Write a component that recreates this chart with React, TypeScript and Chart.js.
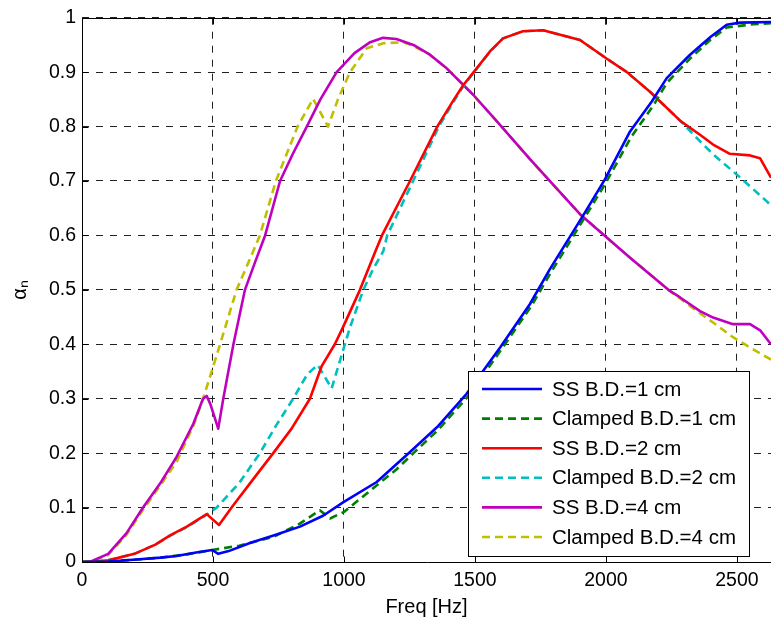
import React, { useEffect, useRef } from "react";
import { Chart, registerables } from "chart.js";

Chart.register(...registerables);

const seriesLabels = [
  "SS B.D.=1 cm",
  "Clamped B.D.=1 cm",
  "SS B.D.=2 cm",
  "Clamped B.D.=2 cm",
  "SS B.D.=4 cm",
  "Clamped B.D.=4 cm",
];
const seriesColors = ["#0000ff", "#008000", "#ff0000", "#00bfbf", "#bf00bf", "#bfbf00"];

const xTicks = [0, 500, 1000, 1500, 2000, 2500];
const yTicks = [0, 0.1, 0.2, 0.3, 0.4, 0.5, 0.6, 0.7, 0.8, 0.9, 1];

const ss1Freq = [0, 100, 195, 300, 361, 430, 497, 520, 560, 641, 740, 832, 920, 998, 1125, 1252, 1360, 1468, 1596, 1710, 1786, 1912, 1996, 2092, 2175, 2232, 2321, 2400, 2461, 2512, 2630];
const ss1Val = [0, 0.001, 0.004, 0.008, 0.011, 0.017, 0.022, 0.015, 0.02, 0.035, 0.05, 0.065, 0.085, 0.11, 0.147, 0.202, 0.25, 0.309, 0.394, 0.474, 0.538, 0.636, 0.703, 0.791, 0.846, 0.889, 0.932, 0.965, 0.987, 0.991, 0.992];

const cl1Freq = [0, 100, 200, 300, 400, 497, 600, 730, 830, 908, 947, 1000, 1087, 1200, 1265, 1360, 1475, 1600, 1715, 1790, 1915, 2000, 2095, 2180, 2232, 2321, 2400, 2461, 2562, 2630];
const cl1Val = [0, 0.001, 0.004, 0.008, 0.014, 0.022, 0.03, 0.046, 0.07, 0.095, 0.08, 0.092, 0.126, 0.17, 0.2, 0.243, 0.305, 0.39, 0.47, 0.532, 0.63, 0.697, 0.78, 0.838, 0.88, 0.925, 0.96, 0.982, 0.988, 0.99];

const ss2Freq = [0, 50, 100, 200, 280, 336, 400, 476, 523, 571, 650, 730, 800, 870, 915, 965, 996, 1061, 1120, 1145, 1252, 1356, 1420, 1455, 1495, 1557, 1607, 1683, 1760, 1901, 2002, 2080, 2168, 2285, 2359, 2409, 2473, 2550, 2588, 2630];
const ss2Val = [0, 0.001, 0.003, 0.015, 0.032, 0.049, 0.065, 0.088, 0.068, 0.1, 0.15, 0.2, 0.245, 0.3, 0.36, 0.4, 0.431, 0.5, 0.571, 0.6, 0.7, 0.8, 0.85, 0.876, 0.9, 0.938, 0.962, 0.975, 0.977, 0.959, 0.925, 0.9, 0.864, 0.81, 0.785, 0.767, 0.75, 0.747, 0.742, 0.706];

const cl2Freq = [0, 50, 100, 200, 280, 336, 400, 476, 514, 600, 679, 740, 806, 860, 900, 953, 996, 1023, 1073, 1111, 1150, 1165, 1264, 1362, 1424, 1458, 1497, 1558, 1607, 1683, 1760, 1901, 2002, 2080, 2168, 2285, 2359, 2409, 2499, 2613, 2630];
const cl2Val = [0, 0.001, 0.003, 0.015, 0.032, 0.048, 0.064, 0.087, 0.1, 0.145, 0.2, 0.25, 0.3, 0.345, 0.362, 0.319, 0.388, 0.431, 0.499, 0.538, 0.571, 0.6, 0.7, 0.8, 0.85, 0.876, 0.9, 0.938, 0.962, 0.975, 0.977, 0.959, 0.925, 0.9, 0.864, 0.81, 0.773, 0.749, 0.712, 0.663, 0.655];

const ss4Freq = [0, 30, 100, 170, 233, 298, 361, 425, 462, 476, 490, 520, 540, 578, 622, 660, 699, 756, 805, 858, 910, 972, 1040, 1100, 1149, 1200, 1265, 1328, 1392, 1494, 1583, 1710, 1774, 1901, 2003, 2092, 2244, 2283, 2359, 2409, 2485, 2550, 2590, 2630];
const ss4Val = [0, 0, 0.015, 0.053, 0.1, 0.144, 0.193, 0.254, 0.3, 0.305, 0.29, 0.245, 0.302, 0.4, 0.5, 0.55, 0.6, 0.7, 0.75, 0.8, 0.85, 0.9, 0.935, 0.955, 0.963, 0.961, 0.95, 0.932, 0.907, 0.858, 0.81, 0.74, 0.706, 0.639, 0.596, 0.559, 0.498, 0.486, 0.461, 0.449, 0.437, 0.437, 0.425, 0.4];

const cl4Freq = [0, 30, 100, 170, 233, 298, 361, 425, 462, 495, 527, 590, 635, 679, 740, 823, 882, 939, 977, 1023, 1087, 1150, 1227, 1265, 1328, 1392, 1494, 1583, 1710, 1774, 1901, 2003, 2092, 2244, 2283, 2359, 2409, 2485, 2540, 2630];
const cl4Val = [0, 0, 0.013, 0.05, 0.096, 0.14, 0.184, 0.25, 0.3, 0.35, 0.4, 0.5, 0.55, 0.6, 0.7, 0.8, 0.851, 0.8, 0.85, 0.9, 0.944, 0.953, 0.955, 0.948, 0.932, 0.907, 0.858, 0.81, 0.74, 0.706, 0.639, 0.596, 0.559, 0.498, 0.484, 0.457, 0.44, 0.413, 0.397, 0.372];

const freqs = [ss1Freq, cl1Freq, ss2Freq, cl2Freq, ss4Freq, cl4Freq];
const vals = [ss1Val, cl1Val, ss2Val, cl2Val, ss4Val, cl4Val];
const dashed = [false, true, false, true, false, true];

const FONT = "'Liberation Sans', Arial, Helvetica, sans-serif";
const LINE_DASH = [8, 5];
const LINE_W = 2.6;

export default function App() {
  const ref = useRef<HTMLCanvasElement>(null);

  useEffect(() => {
    if (!ref.current) return;
    const datasets = seriesLabels.map((label, i) => ({
      label,
      data: freqs[i].map((x, k) => ({ x, y: vals[i][k] })),
      borderColor: seriesColors[i],
      backgroundColor: seriesColors[i],
      borderWidth: LINE_W,
      borderDash: dashed[i] ? LINE_DASH : [],
      pointRadius: 0,
      fill: false,
      tension: 0,
      borderJoinStyle: "round" as const,
      borderCapStyle: "butt" as const,
    }));

    const framePlugin = {
      id: "frame",
      afterDatasetsDraw(chart: any) {
        const { ctx, chartArea } = chart;
        const xs = chart.scales.x;
        const ys = chart.scales.y;
        const L = Math.round(chartArea.left) + 0.5;
        const T = Math.round(chartArea.top) + 0.5;
        const B = Math.round(chartArea.bottom) + 0.5;
        const R = chartArea.right;
        ctx.save();
        ctx.setLineDash([]);
        ctx.strokeStyle = "#000";
        ctx.lineWidth = 1;
        ctx.beginPath();
        ctx.moveTo(R + 2, T);
        ctx.lineTo(L, T);
        ctx.lineTo(L, B);
        ctx.lineTo(R + 2, B);
        ctx.stroke();
        // inward ticks
        ctx.beginPath();
        xTicks.forEach((v) => {
          const px = Math.round(xs.getPixelForValue(v)) + 0.5;
          ctx.moveTo(px, B);
          ctx.lineTo(px, B - 6);
          ctx.moveTo(px, T);
          ctx.lineTo(px, T + 6);
        });
        yTicks.forEach((v) => {
          const py = Math.round(ys.getPixelForValue(v)) + 0.5;
          ctx.moveTo(L, py);
          ctx.lineTo(L + 6, py);
        });
        ctx.stroke();

        // legend
        const lx0 = 468.5, ly0 = 371.5, lx1 = 749.5, ly1 = 556.5;
        ctx.fillStyle = "#fff";
        ctx.fillRect(lx0, ly0, lx1 - lx0, ly1 - ly0);
        ctx.strokeStyle = "#000";
        ctx.lineWidth = 1;
        ctx.strokeRect(lx0, ly0, lx1 - lx0, ly1 - ly0);
        const rowY0 = 389;
        const rowGap = 29.6;
        ctx.font = `20.5px ${FONT}`;
        ctx.textBaseline = "middle";
        ctx.textAlign = "left";
        seriesLabels.forEach((label, i) => {
          const y = rowY0 + i * rowGap;
          ctx.beginPath();
          ctx.setLineDash(dashed[i] ? LINE_DASH : []);
          ctx.strokeStyle = seriesColors[i];
          ctx.lineWidth = LINE_W;
          ctx.moveTo(482, y);
          ctx.lineTo(542, y);
          ctx.stroke();
          ctx.setLineDash([]);
          ctx.fillStyle = "#000";
          ctx.fillText(label, 552, y + 1);
        });
        ctx.restore();
      },
    };

    const chart = new Chart(ref.current, {
      type: "line",
      data: { datasets },
      options: {
        animation: false,
        responsive: false,
        maintainAspectRatio: false,
        layout: { padding: { top: 15, right: 0, left: 0, bottom: 0 } },
        plugins: {
          legend: { display: false },
          tooltip: { enabled: false },
        },
        scales: {
          x: {
            type: "linear",
            min: 0,
            max: 2630,
            afterFit(scale: any) {
              scale.height = 59;
            },
            afterBuildTicks(scale: any) {
              scale.ticks = xTicks.map((v) => ({ value: v }));
            },
            ticks: {
              stepSize: 500,
              includeBounds: false,
              maxRotation: 0,
              autoSkip: false,
              padding: 7,
              color: "#000",
              font: { family: FONT, size: 19.5 },
              callback: (v: any) => String(Math.round(Number(v))),
            },
            grid: { color: "#222", lineWidth: 1, drawTicks: false },
            border: { display: false, dash: [7, 7] },
            title: {
              display: true,
              text: "Freq [Hz]",
              color: "#000",
              font: { family: FONT, size: 20 },
              padding: { top: 0, bottom: 2 },
            },
          },
          y: {
            type: "linear",
            min: 0,
            max: 1,
            afterFit(scale: any) {
              scale.width = 82;
            },
            afterBuildTicks(scale: any) {
              scale.ticks = yTicks.map((v) => ({ value: v }));
            },
            ticks: {
              stepSize: 0.1,
              autoSkip: false,
              padding: 6,
              color: "#000",
              font: { family: FONT, size: 19.5 },
              callback: (v: any) => String(Math.round(Number(v) * 10) / 10),
            },
            grid: { color: "#222", lineWidth: 1, drawTicks: false },
            border: { display: false, dash: [7, 7] },
            title: {
              display: true,
              text: "αₙ",
              color: "#000",
              font: { family: FONT, size: 20 },
              padding: { top: 8, bottom: 0 },
            },
          },
        },
      },
      plugins: [framePlugin],
    });
    return () => chart.destroy();
  }, []);

  return (
    <div style={{ position: "fixed", left: 0, top: 0, width: 771, height: 621, background: "#fff" }}>
      <canvas ref={ref} width={771} height={621} style={{ display: "block" }} />
    </div>
  );
}
